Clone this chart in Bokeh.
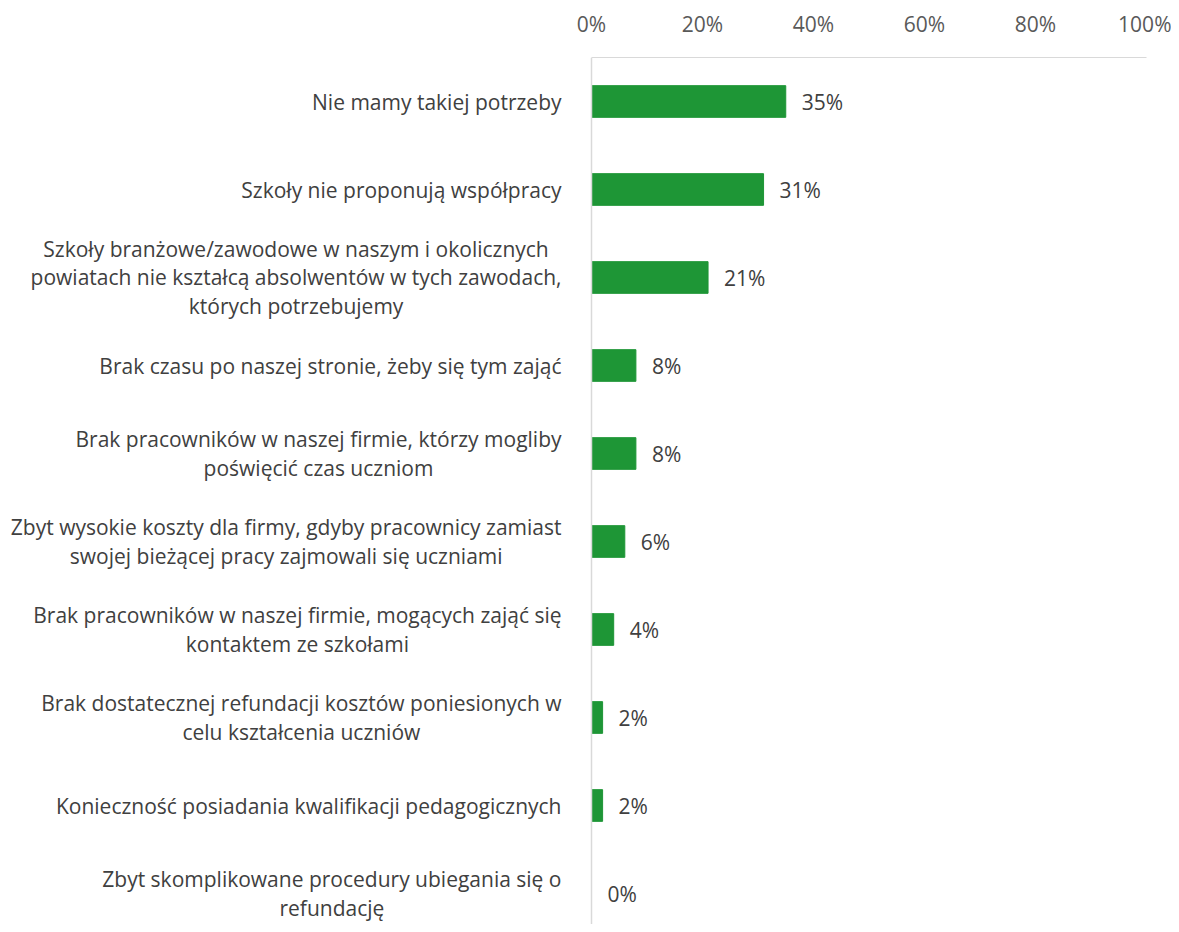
from bokeh.plotting import figure
from bokeh.models import Range1d, FixedTicker, ColumnDataSource, Span
from bokeh.embed import file_html
from bokeh.resources import INLINE
from bokeh.core.properties import value

categories = [
    "Nie mamy takiej potrzeby",
    "Szkoły nie proponują współpracy",
    "Szkoły branżowe/zawodowe w naszym i okolicznych\npowiatach nie kształcą absolwentów w tych zawodach,\nktórych potrzebujemy",
    "Brak czasu po naszej stronie, żeby się tym zająć",
    "Brak pracowników w naszej firmie, którzy mogliby\npoświęcić czas uczniom",
    "Zbyt wysokie koszty dla firmy, gdyby pracownicy zamiast\nswojej bieżącej pracy zajmowali się uczniami",
    "Brak pracowników w naszej firmie, mogących zająć się\nkontaktem ze szkołami",
    "Brak dostatecznej refundacji kosztów poniesionych w\ncelu kształcenia uczniów",
    "Konieczność posiadania kwalifikacji pedagogicznych",
    "Zbyt skomplikowane procedury ubiegania się o\nrefundację",
]
values = [35, 31, 21, 8, 8, 6, 4, 2, 2, 0]
x_ticks = [0, 20, 40, 60, 80, 100]
x_tick_labels = ["0%", "20%", "40%", "60%", "80%", "100%"]

FONT = "Open Sans"
GREEN = "#1e9636"
TEXT = "#404040"
AXIS = "#d9d9d9"

W, H = 1171, 924
top_b, right_b = 57, 25
frame_w = W - right_b
frame_h = H - top_b
zero_px = 591.0          # pixel position of 0 %
px_per_unit = (frame_w - zero_px) / 100.0
row_px = 88.0

idx = list(range(len(categories)))
src = ColumnDataSource(dict(
    y=idx, v=values, lab=[f"{v}%" for v in values],
    zero=[0] * len(idx), cat=categories))

p = figure(width=W, height=H, output_backend="svg", toolbar_location=None,
           x_axis_location="above",
           x_range=Range1d(-zero_px / px_per_unit, 100),
           y_range=Range1d(-0.5 + frame_h / row_px, -0.5),
           min_border_top=top_b, min_border_left=0,
           min_border_right=right_b, min_border_bottom=0)
p.outline_line_color = None
p.xgrid.grid_line_color = None
p.ygrid.grid_line_color = None
p.yaxis.visible = False

p.hbar(y="y", left=0, right="v", height=0.36, source=src,
       fill_color=GREEN, line_color=GREEN)
p.add_layout(Span(location=0, dimension="height", line_color=AXIS,
                  line_width=1.5))

p.text(x="v", y="y", text="lab", source=src, x_offset=16,
       text_baseline="middle", text_align="left",
       text_font=value(FONT), text_font_size="21px", text_color=TEXT)

p.text(x="zero", y="y", text="cat", source=src, x_offset=-30,
       anchor="center_right", text_align="center",
       text_line_height=1.03,
       text_font=value(FONT), text_font_size="21px", text_color=TEXT)

xa = p.xaxis[0]
xa.bounds = (0, 100)
xa.ticker = FixedTicker(ticks=x_ticks)
xa.major_label_overrides = {t: l for t, l in zip(x_ticks, x_tick_labels)}
xa.major_tick_line_color = None
xa.minor_tick_line_color = None
xa.axis_line_color = AXIS
xa.major_label_text_font = FONT
xa.major_label_text_font_size = "21px"
xa.major_label_text_color = "#595959"
xa.major_label_standoff = 14

open("out.html", "w").write(file_html(p, INLINE))
